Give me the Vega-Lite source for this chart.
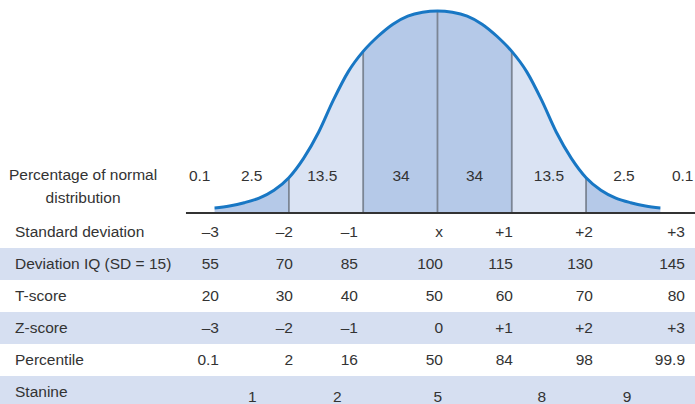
{
  "$schema": "https://vega.github.io/schema/vega-lite/v6.json",
  "padding": 0,
  "spacing": 0,
  "background": "white",
  "config": {
    "view": {"stroke": null},
    "concat": {"spacing": 0},
    "text": {"font": "Liberation Sans", "fontSize": 15.5, "color": "#333333", "baseline": "middle"}
  },
  "datasets": {
    "curve": [
      {"sd": -3.0, "d": 0.025}, {"sd": -2.8, "d": 0.035}, {"sd": -2.6, "d": 0.051}, {"sd": -2.4, "d": 0.074},
      {"sd": -2.2, "d": 0.113}, {"sd": -2.0, "d": 0.175}, {"sd": -1.8, "d": 0.272}, {"sd": -1.6, "d": 0.40},
      {"sd": -1.4, "d": 0.56}, {"sd": -1.2, "d": 0.70}, {"sd": -1.0, "d": 0.80}, {"sd": -0.8, "d": 0.875},
      {"sd": -0.6, "d": 0.935}, {"sd": -0.4, "d": 0.975}, {"sd": -0.2, "d": 0.994}, {"sd": 0, "d": 1.0},
      {"sd": 0.2, "d": 0.994}, {"sd": 0.4, "d": 0.975}, {"sd": 0.6, "d": 0.935}, {"sd": 0.8, "d": 0.875},
      {"sd": 1.0, "d": 0.80}, {"sd": 1.2, "d": 0.70}, {"sd": 1.4, "d": 0.56}, {"sd": 1.6, "d": 0.40},
      {"sd": 1.8, "d": 0.272}, {"sd": 2.0, "d": 0.175}, {"sd": 2.2, "d": 0.113}, {"sd": 2.4, "d": 0.074},
      {"sd": 2.6, "d": 0.051}, {"sd": 2.8, "d": 0.035}, {"sd": 3.0, "d": 0.025}
    ],
    "dividers": [
      {"sd": -2, "d": 0.175}, {"sd": -1, "d": 0.80}, {"sd": 0, "d": 1.0}, {"sd": 1, "d": 0.80}, {"sd": 2, "d": 0.175}
    ],
    "baseline": [
      {"sd": -3.385, "sd2": 3.466, "d": 0}
    ],
    "pct": [
      {"sd": -3.2, "d": 0.183, "text": "0.1"}, {"sd": -2.5, "d": 0.183, "text": "2.5"}, {"sd": -1.55, "d": 0.183, "text": "13.5"}, {"sd": -0.49, "d": 0.183, "text": "34"},
      {"sd": 0.5, "d": 0.183, "text": "34"}, {"sd": 1.5, "d": 0.183, "text": "13.5"}, {"sd": 2.51, "d": 0.183, "text": "2.5"}, {"sd": 3.3, "d": 0.183, "text": "0.1"},
      {"sd": -4.77, "d": 0.186, "text": "Percentage of normal"},
      {"sd": -4.77, "d": 0.074, "text": "distribution"}
    ],
    "bands": [
      {"row": "Deviation IQ (SD = 15)"}, {"row": "Z-score"}, {"row": "Stanine"}
    ],
    "labels": [
      {"row": "Standard deviation", "col": -6},
      {"row": "Deviation IQ (SD = 15)", "col": -6},
      {"row": "T-score", "col": -6},
      {"row": "Z-score", "col": -6},
      {"row": "Percentile", "col": -6},
      {"row": "Stanine", "col": -6}
    ],
    "cells": [
      {"row": "Standard deviation", "col": -3, "text": "–3"},
      {"row": "Standard deviation", "col": -2, "text": "–2"},
      {"row": "Standard deviation", "col": -1, "text": "–1"},
      {"row": "Standard deviation", "col": 0, "text": "x"},
      {"row": "Standard deviation", "col": 1, "text": "+1"},
      {"row": "Standard deviation", "col": 2, "text": "+2"},
      {"row": "Standard deviation", "col": 3, "text": "+3"},
      {"row": "Deviation IQ (SD = 15)", "col": -3, "text": "55"},
      {"row": "Deviation IQ (SD = 15)", "col": -2, "text": "70"},
      {"row": "Deviation IQ (SD = 15)", "col": -1, "text": "85"},
      {"row": "Deviation IQ (SD = 15)", "col": 0, "text": "100"},
      {"row": "Deviation IQ (SD = 15)", "col": 1, "text": "115"},
      {"row": "Deviation IQ (SD = 15)", "col": 2, "text": "130"},
      {"row": "Deviation IQ (SD = 15)", "col": 3, "text": "145"},
      {"row": "T-score", "col": -3, "text": "20"},
      {"row": "T-score", "col": -2, "text": "30"},
      {"row": "T-score", "col": -1, "text": "40"},
      {"row": "T-score", "col": 0, "text": "50"},
      {"row": "T-score", "col": 1, "text": "60"},
      {"row": "T-score", "col": 2, "text": "70"},
      {"row": "T-score", "col": 3, "text": "80"},
      {"row": "Z-score", "col": -3, "text": "–3"},
      {"row": "Z-score", "col": -2, "text": "–2"},
      {"row": "Z-score", "col": -1, "text": "–1"},
      {"row": "Z-score", "col": 0, "text": "0"},
      {"row": "Z-score", "col": 1, "text": "+1"},
      {"row": "Z-score", "col": 2, "text": "+2"},
      {"row": "Z-score", "col": 3, "text": "+3"},
      {"row": "Percentile", "col": -3, "text": "0.1"},
      {"row": "Percentile", "col": -2, "text": "2"},
      {"row": "Percentile", "col": -1, "text": "16"},
      {"row": "Percentile", "col": 0, "text": "50"},
      {"row": "Percentile", "col": 1, "text": "84"},
      {"row": "Percentile", "col": 2, "text": "98"},
      {"row": "Percentile", "col": 3, "text": "99.9"}
    ],
    "stanine": [
      {"row": "Stanine", "col": -2.55, "text": "1"},
      {"row": "Stanine", "col": -1.32, "text": "2"},
      {"row": "Stanine", "col": -0.06, "text": "5"},
      {"row": "Stanine", "col": 1.36, "text": "8"},
      {"row": "Stanine", "col": 2.37, "text": "9"}
    ]
  },
  "vconcat": [
    {
      "width": 695,
      "height": 216,
      "layer": [
        {"data": {"name": "curve"}, "transform": [{"filter": {"field": "sd", "range": [-3, -2]}}],
         "mark": {"type": "area", "interpolate": "monotone", "color": "#b5c9e8", "opacity": 1},
         "encoding": {
           "x": {"field": "sd", "type": "quantitative", "scale": {"domain": [-5.888, 3.466], "nice": false, "zero": false}, "axis": null},
           "y": {"field": "d", "type": "quantitative", "scale": {"domain": [-0.01485, 1.0545], "nice": false, "zero": false}, "axis": null},
           "y2": {"datum": 0}}},
        {"data": {"name": "curve"}, "transform": [{"filter": {"field": "sd", "range": [-2, -1]}}],
         "mark": {"type": "area", "interpolate": "monotone", "color": "#dae3f3", "opacity": 1},
         "encoding": {"x": {"field": "sd", "type": "quantitative"}, "y": {"field": "d", "type": "quantitative"}, "y2": {"datum": 0}}},
        {"data": {"name": "curve"}, "transform": [{"filter": {"field": "sd", "range": [-1, 1]}}],
         "mark": {"type": "area", "interpolate": "monotone", "color": "#b5c9e8", "opacity": 1},
         "encoding": {"x": {"field": "sd", "type": "quantitative"}, "y": {"field": "d", "type": "quantitative"}, "y2": {"datum": 0}}},
        {"data": {"name": "curve"}, "transform": [{"filter": {"field": "sd", "range": [1, 2]}}],
         "mark": {"type": "area", "interpolate": "monotone", "color": "#dae3f3", "opacity": 1},
         "encoding": {"x": {"field": "sd", "type": "quantitative"}, "y": {"field": "d", "type": "quantitative"}, "y2": {"datum": 0}}},
        {"data": {"name": "curve"}, "transform": [{"filter": {"field": "sd", "range": [2, 3]}}],
         "mark": {"type": "area", "interpolate": "monotone", "color": "#b5c9e8", "opacity": 1},
         "encoding": {"x": {"field": "sd", "type": "quantitative"}, "y": {"field": "d", "type": "quantitative"}, "y2": {"datum": 0}}},
        {"data": {"name": "dividers"},
         "mark": {"type": "rule", "color": "#7b8594", "strokeWidth": 1.8},
         "encoding": {"x": {"field": "sd", "type": "quantitative"}, "y": {"field": "d", "type": "quantitative"}, "y2": {"datum": 0}}},
        {"data": {"name": "baseline"},
         "mark": {"type": "rule", "color": "#333333", "strokeWidth": 2},
         "encoding": {"x": {"field": "sd", "type": "quantitative"}, "x2": {"field": "sd2"}, "y": {"field": "d", "type": "quantitative"}}},
        {"data": {"name": "curve"},
         "mark": {"type": "line", "interpolate": "monotone", "color": "#1877c4", "strokeWidth": 3, "strokeCap": "butt"},
         "encoding": {"x": {"field": "sd", "type": "quantitative"}, "y": {"field": "d", "type": "quantitative"}}},
        {"data": {"name": "pct"},
         "mark": {"type": "text", "align": "center"},
         "encoding": {"x": {"field": "sd", "type": "quantitative"}, "y": {"field": "d", "type": "quantitative"}, "text": {"field": "text"}}}
      ]
    },
    {
      "width": 695,
      "height": 188,
      "layer": [
        {"data": {"name": "bands"},
         "mark": {"type": "rect", "color": "#d6dff1"},
         "encoding": {
           "y": {"field": "row", "type": "nominal", "sort": ["Standard deviation", "Deviation IQ (SD = 15)", "T-score", "Z-score", "Percentile", "Stanine"], "scale": {"domain": ["Standard deviation", "Deviation IQ (SD = 15)", "T-score", "Z-score", "Percentile", "Stanine"], "paddingInner": 0, "paddingOuter": 0, "range": [0, 192]}, "axis": null}}},
        {"data": {"name": "labels"},
         "mark": {"type": "text", "align": "left"},
         "encoding": {
           "x": {"field": "col", "type": "quantitative", "scale": {"domain": [-6, -3, -2, -1, 0, 1, 2, 3], "range": [15, 219, 293, 358, 443, 513, 593, 685], "nice": false, "zero": false}, "axis": null},
           "y": {"field": "row", "type": "nominal", "sort": ["Standard deviation", "Deviation IQ (SD = 15)", "T-score", "Z-score", "Percentile", "Stanine"]}, "text": {"field": "row"}}},
        {"data": {"name": "cells"},
         "mark": {"type": "text", "align": "right"},
         "encoding": {"x": {"field": "col", "type": "quantitative"}, "y": {"field": "row", "type": "nominal", "sort": ["Standard deviation", "Deviation IQ (SD = 15)", "T-score", "Z-score", "Percentile", "Stanine"]}, "text": {"field": "text"}}},
        {"data": {"name": "stanine"},
         "mark": {"type": "text", "align": "center", "dy": 5},
         "encoding": {"x": {"field": "col", "type": "quantitative"}, "y": {"field": "row", "type": "nominal", "sort": ["Standard deviation", "Deviation IQ (SD = 15)", "T-score", "Z-score", "Percentile", "Stanine"]}, "text": {"field": "text"}}}
      ]
    }
  ]
}
